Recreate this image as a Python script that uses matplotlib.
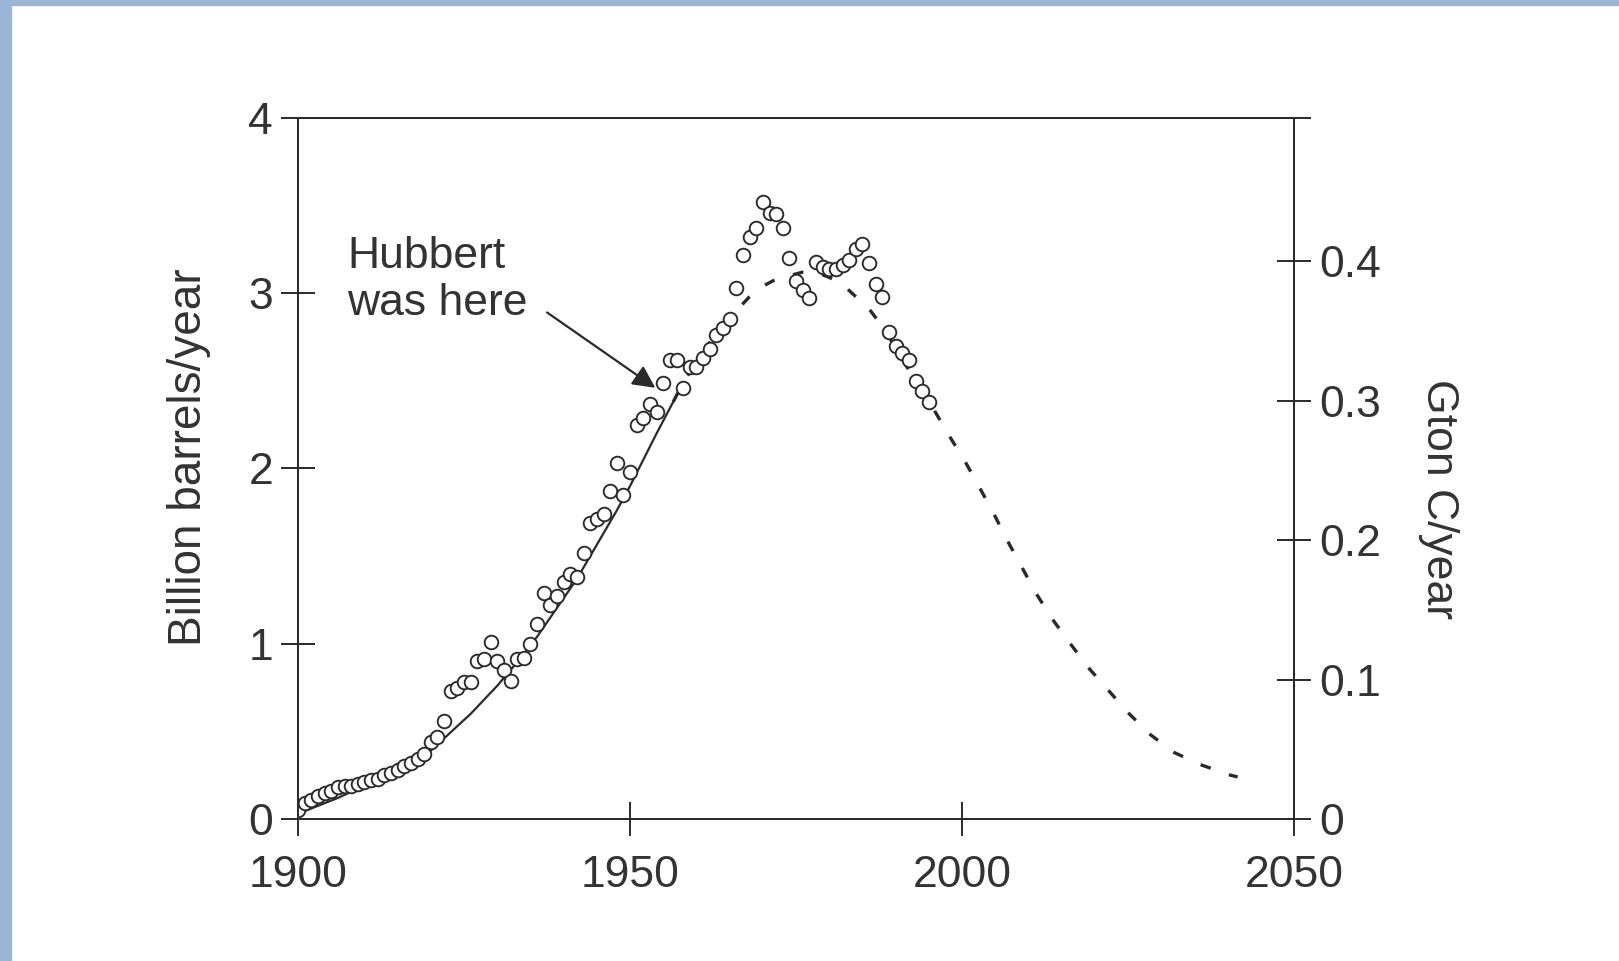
import matplotlib.pyplot as plt
from matplotlib.patches import Rectangle

plt.rcParams['font.family'] = ['Liberation Sans', 'DejaVu Sans']

# observed production, billion barrels/year (one circle per year)
obs_years = list(range(1900, 1996))
obs_values = [
    0.05, 0.09, 0.11, 0.13, 0.15, 0.16, 0.18, 0.19, 0.19, 0.20,
    0.21, 0.22, 0.23, 0.25, 0.26, 0.28, 0.30, 0.32, 0.34, 0.37,
    0.44, 0.47, 0.56, 0.73, 0.75, 0.78, 0.78, 0.90, 0.91, 1.01,
    0.90, 0.85, 0.79, 0.91, 0.92, 1.00, 1.11, 1.29, 1.22, 1.27,
    1.35, 1.40, 1.38, 1.52, 1.69, 1.71, 1.74, 1.87, 2.03, 1.85,
    1.98, 2.25, 2.29, 2.37, 2.32, 2.49, 2.62, 2.62, 2.46, 2.58,
    2.58, 2.63, 2.68, 2.76, 2.80, 2.85, 3.03, 3.22, 3.32, 3.37,
    3.52, 3.46, 3.45, 3.37, 3.20, 3.07, 3.02, 2.97, 3.18, 3.15,
    3.14, 3.14, 3.16, 3.19, 3.25, 3.28, 3.17, 3.05, 2.98, 2.78,
    2.70, 2.66, 2.62, 2.50, 2.44, 2.38,
]

# Hubbert fit up to the time of his prediction (solid)
fit_years = [1900, 1902, 1904, 1906, 1908, 1910, 1912, 1914, 1916, 1918,
             1920, 1922, 1924, 1926, 1928, 1930, 1932, 1934, 1936, 1938,
             1940, 1942, 1944, 1946, 1948, 1950, 1952, 1954, 1956.5]
fit_values = [0.03, 0.06, 0.09, 0.12, 0.155, 0.19, 0.22, 0.25, 0.29, 0.335,
              0.39, 0.46, 0.53, 0.60, 0.68, 0.76, 0.85, 0.94, 1.04, 1.15,
              1.26, 1.37, 1.50, 1.63, 1.76, 1.90, 2.05, 2.20, 2.38]

# projected continuation (dashed)
proj_years = [1956.5, 1958, 1960, 1962, 1964, 1966.5, 1968, 1970, 1972, 1974,
              1976, 1978, 1980, 1982, 1984, 1986, 1988, 1990, 1992, 1994,
              1996, 1998, 2000.3, 2002.5, 2004.8, 2006.8, 2009.1, 2011.1,
              2013.6, 2016.3, 2019.1, 2021.9, 2024.9, 2028.4, 2031.9,
              2035.9, 2040.4, 2041.5]
proj_values = [2.38, 2.49, 2.61, 2.72, 2.82, 2.92, 2.98, 3.04, 3.08, 3.10,
               3.12, 3.12, 3.09, 3.05, 2.98, 2.91, 2.81, 2.69, 2.56, 2.44,
               2.32, 2.19, 2.05, 1.90, 1.74, 1.59, 1.43, 1.29,
               1.14, 1.00, 0.86, 0.74, 0.61, 0.48, 0.38,
               0.31, 0.25, 0.24]

left_ticks = [0, 1, 2, 3, 4]
right_ticks = [0, 0.1, 0.2, 0.3, 0.4]
right_labels = ['0', '0.1', '0.2', '0.3', '0.4']
x_ticks = [1900, 1950, 2000, 2050]
right_top = 0.503  # Gton C/year at the top of the left scale

ink = '#2a2a2a'
txt = '#333333'
fs = 32

fig = plt.figure(figsize=(16.19, 9.61), dpi=100)
fig.patch.set_facecolor('white')
# blue frame of the scanned slide
fig.patches.append(Rectangle((0, 0), 11 / 1619, 1, transform=fig.transFigure,
                             color='#9ab5d6', zorder=0))
fig.patches.append(Rectangle((0, 1 - 5 / 961), 1, 5 / 961, transform=fig.transFigure,
                             color='#9ab5d6', zorder=0))

ax = fig.add_axes([0.1841, 0.1478, 0.6152, 0.7295])
ax.set_xlim(1900, 2050)
ax.set_ylim(0, 4)

ax.plot(fit_years, fit_values, color=ink, lw=1.6, zorder=2)
ax.plot(proj_years, proj_values, color=ink, lw=2.4, dashes=(3.2, 5.8), zorder=2)
ax.plot(obs_years, obs_values, 'o', ms=9.8, mfc='white', mec=ink, mew=1.35, zorder=3)

ax.text(1907.4, 2.875, 'Hubbert\nwas here', fontsize=fs, color=txt,
        ha='left', va='baseline', linespacing=1.2)
ax.annotate('', xy=(1953.8, 2.46), xytext=(1937.5, 2.89),
            arrowprops=dict(arrowstyle='-|>', color=ink, lw=1.6,
                            mutation_scale=34, shrinkA=0, shrinkB=0))

for side in ['left', 'right', 'top', 'bottom']:
    ax.spines[side].set_color(ink)
    ax.spines[side].set_linewidth(1.4)

ax.set_xticks(x_ticks)
ax.set_yticks(left_ticks)
ax.tick_params(axis='both', direction='inout', length=24, width=1.4, color=ink,
               labelsize=fs, labelcolor=txt, pad=6)
ax.tick_params(axis='x', pad=14)
ax.set_ylabel('Billion barrels/year', fontsize=fs + 1, color=txt)
ax.yaxis.set_label_coords(-0.087, 0.516)

ax2 = ax.twinx()
ax2.set_ylim(0, right_top)
ax2.set_yticks(right_ticks)
ax2.set_yticklabels(right_labels)
ax2.set_yticks([right_top], minor=True)
ax2.tick_params(axis='y', which='major', direction='inout', length=24, width=1.4,
                color=ink, labelsize=fs, labelcolor=txt, pad=6)
ax2.tick_params(axis='y', which='minor', direction='out', length=12, width=1.4,
                color=ink)
ax2.set_ylabel('Gton C/year', fontsize=fs, color=txt, rotation=270, va='center')
ax2.yaxis.set_label_coords(1.145, 0.457)
for side in ['left', 'right', 'top', 'bottom']:
    ax2.spines[side].set_color(ink)
    ax2.spines[side].set_linewidth(1.4)

fig.savefig('out.png', dpi=100, facecolor='white')
